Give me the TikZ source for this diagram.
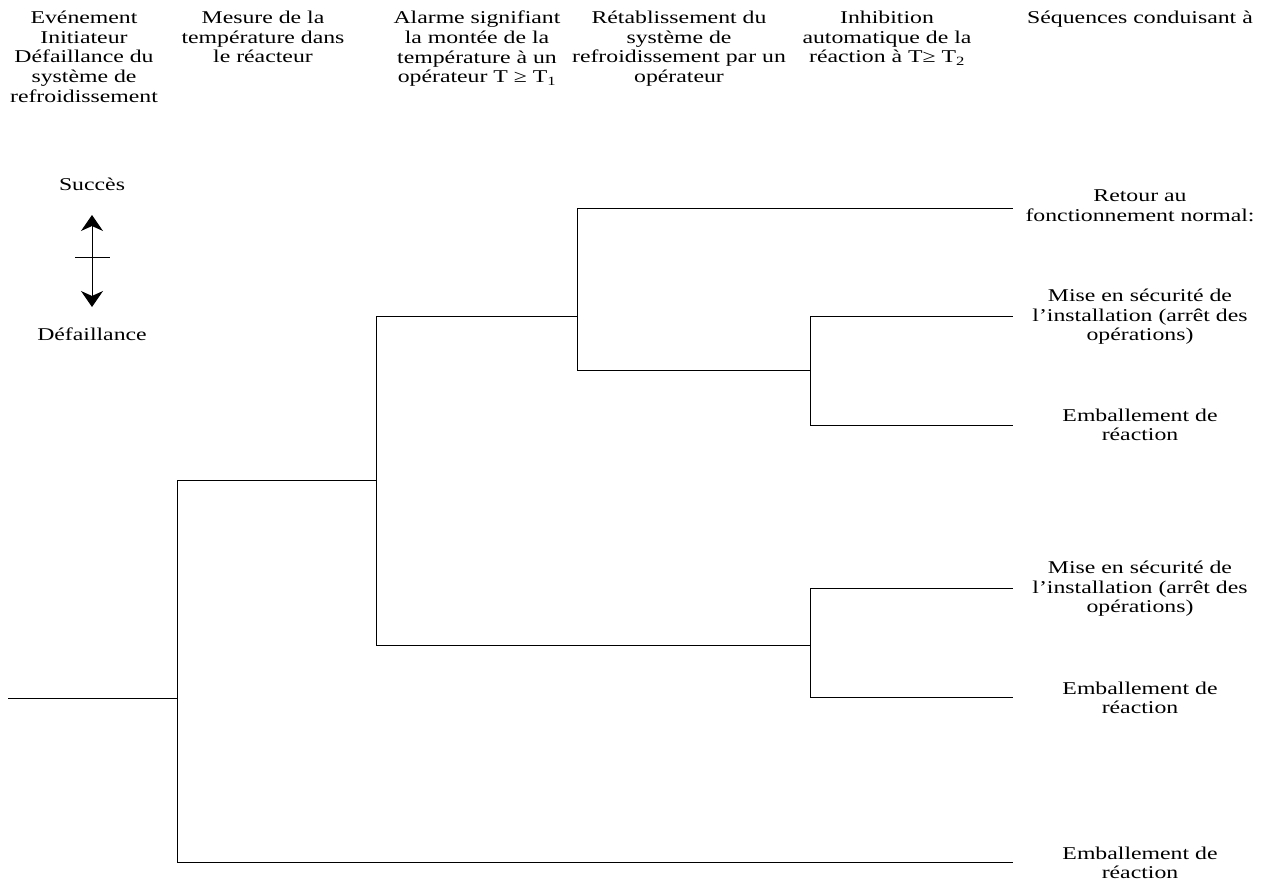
\documentclass[tikz,border=0pt]{standalone}
\usepackage{fontspec}
\setmainfont{Liberation Serif}[FakeStretch=1.32]
\usetikzlibrary{arrows.meta}
\tikzset{bigtip/.tip={Stealth[length=16pt,width=22pt,inset=5pt]}}
\begin{document}
\begin{tikzpicture}[x=1pt,y=-1pt,
  branch/.style={line width=1pt},
  txt/.style={inner sep=0pt,font=\fontsize{18}{19.6}\selectfont},
  head/.style={txt,anchor=north,align=center},
  outcome/.style={txt,anchor=center,align=center},
  legend/.style={txt,anchor=center}]
\useasboundingbox (0,0) rectangle (1266,891);

% column headings
\node[head] (h1) at (84,11) {Evénement\\Initiateur\\Défaillance du\\système de\\refroidissement};
\node[head] (h2) at (263,11) {Mesure de la\\température dans\\le réacteur};
\node[head] (h3) at (477,11) {Alarme signifiant\\la montée de la\\température à un\\opérateur T ≥ T\textsubscript{1}};
\node[head] (h4) at (679,11) {Rétablissement du\\système de\\refroidissement par un\\opérateur};
\node[head] (h5) at (887,11) {Inhibition\\automatique de la\\réaction à T≥ T\textsubscript{2}};
\node[head] (h6) at (1140,11) {Séquences conduisant à};

% legend
\node[legend] (succ) at (92,184) {Succès};
\node[legend] (fail) at (92,334) {Défaillance};
\coordinate (up) at (92,215);
\coordinate (down) at (92,307);
\coordinate (barl) at (75,257);
\coordinate (barr) at (110,257);
\draw[branch,bigtip-bigtip] (up) -- (down);
\draw[branch] (barl) -- (barr);

% branch points
\coordinate (start) at (8,698);
\coordinate (n1) at (177,698);
\coordinate (n2) at (376,480);
\coordinate (n3) at (577,316);
\coordinate (n4) at (810,645);
\coordinate (n5) at (810,370);
% branch ends
\coordinate (e1) at (1013,208);
\coordinate (e2) at (1013,316);
\coordinate (e3) at (1013,425);
\coordinate (e4) at (1013,588);
\coordinate (e5) at (1013,697);
\coordinate (e6) at (1013,862);

% event tree
\draw[branch] (start) -- (n1);
\draw[branch] (n1) |- (n2);
\draw[branch] (n1) |- (e6);
\draw[branch] (n2) |- (n3);
\draw[branch] (n2) |- (n4);
\draw[branch] (n3) |- (e1);
\draw[branch] (n3) |- (n5);
\draw[branch] (n5) |- (e2);
\draw[branch] (n5) |- (e3);
\draw[branch] (n4) |- (e4);
\draw[branch] (n4) |- (e5);

% outcomes
\node[outcome] (o1) at (1140,206) {Retour au\\fonctionnement normal:};
\node[outcome] (o2) at (1140,317) {Mise en sécurité de\\l’installation (arrêt des\\opérations)};
\node[outcome] (o3) at (1140,425) {Emballement de\\réaction};
\node[outcome] (o4) at (1140,589) {Mise en sécurité de\\l’installation (arrêt des\\opérations)};
\node[outcome] (o5) at (1140,698) {Emballement de\\réaction};
\node[outcome] (o6) at (1140,863) {Emballement de\\réaction};
\end{tikzpicture}
\end{document}
